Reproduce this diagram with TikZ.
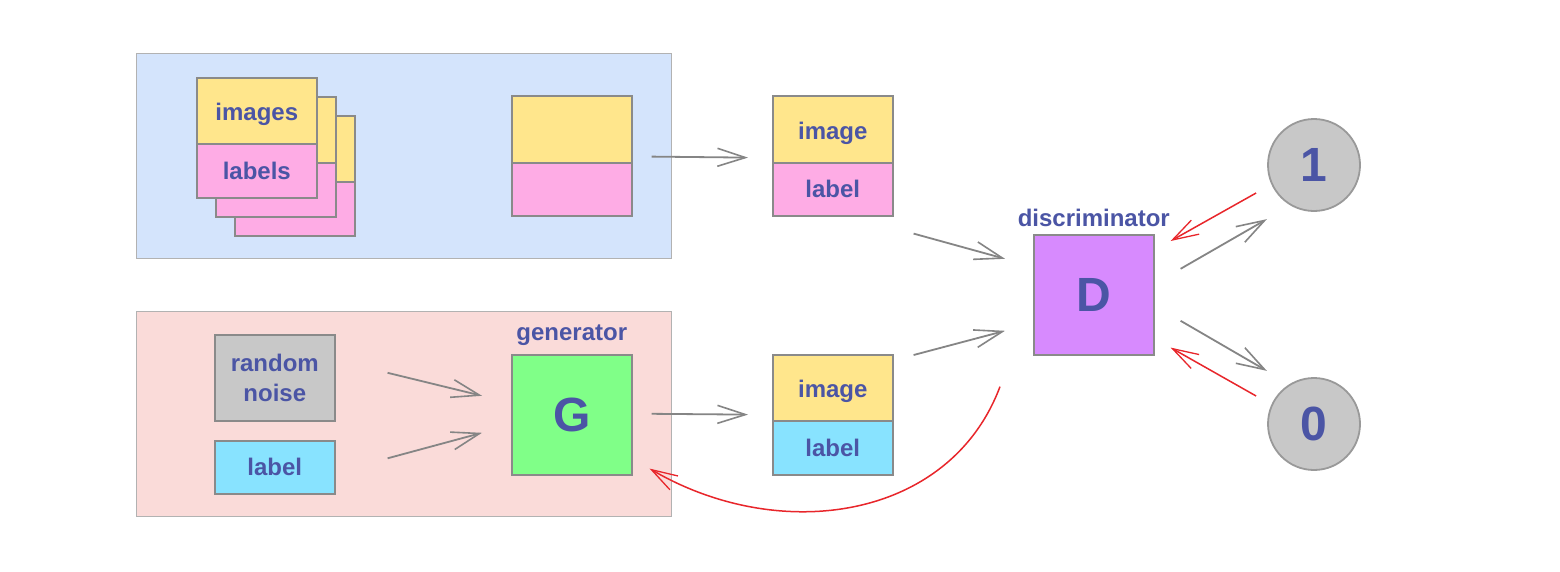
\documentclass[tikz,border=0pt]{standalone}
\usepackage{fontspec}
\setmainfont{Liberation Sans}
\usetikzlibrary{arrows.meta,calc}
\definecolor{txt}{HTML}{4B55A5}
\definecolor{yel}{HTML}{FFE68C}
\definecolor{pnk}{HTML}{FEACE5}
\definecolor{cya}{HTML}{88E3FF}
\definecolor{gry}{HTML}{C8C8C8}
\definecolor{grn}{HTML}{80FF88}
\definecolor{pur}{HTML}{D78AFE}
\definecolor{bluebg}{HTML}{D4E4FC}
\definecolor{pinkbg}{HTML}{FADBD9}
\definecolor{edge}{HTML}{8A8A8A}
\definecolor{arr}{HTML}{858585}
\definecolor{rarr}{HTML}{E8262B}
\tikzset{
  lbl/.style={text=txt, font=\bfseries\fontsize{24}{30}\selectfont},
  big/.style={text=txt, font=\bfseries\fontsize{48}{50}\selectfont},
  half/.style={draw=edge, line width=1.6pt, minimum width=120pt, inner sep=0pt, anchor=north west, lbl},
  panel/.style={draw=black!30, line width=0.8pt, minimum width=535pt, minimum height=205pt, inner sep=0pt, anchor=north west},
  garrow/.style={draw=arr, line width=1.8pt, -{Straight Barb[length=28pt,width=18pt,line width=1.6pt]}},
  rarrow/.style={draw=rarr, line width=1.5pt, -{Straight Barb[length=26pt,width=16pt,line width=1.3pt]}},
  ball/.style={circle, draw=black!40, line width=1.8pt, fill=gry, minimum size=92pt, inner sep=0pt, big}
}
\newcommand{\dn}[1]{\raisebox{-4pt}[\height][\depth]{#1}}
\begin{document}
\begin{tikzpicture}[x=1pt,y=-1pt]
\useasboundingbox[fill=white] (0,0) rectangle (1560,571);
% panels
\node[panel, fill=bluebg] (realpanel) at (136,53) {};
\node[panel, fill=pinkbg] (fakepanel) at (136,311) {};
% stacked cards
\node[half, fill=yel, minimum height=66pt] (s3t) at (234,115) {};
\node[half, fill=pnk, minimum height=54pt] (s3b) at (234,181) {};
\node[half, fill=yel, minimum height=66pt] (s2t) at (215,96) {};
\node[half, fill=pnk, minimum height=54pt] (s2b) at (215,162) {};
\node[half, fill=yel, minimum height=66pt] (s1t) at (196,77) {\dn{images}};
\node[half, fill=pnk, minimum height=54pt] (s1b) at (196,143) {labels};
% single real sample in panel
\node[half, fill=yel, minimum height=67pt] (rt) at (511,95) {};
\node[half, fill=pnk, minimum height=53pt] (rb) at (511,162) {};
% real pair
\node[half, fill=yel, minimum height=67pt] (pt) at (772,95) {\dn{image}};
\node[half, fill=pnk, minimum height=53pt] (pb) at (772,162) {label};
% generator side
\node[half, fill=gry, minimum height=86pt, align=center] (noise) at (214,334) {random\\noise};
\node[half, fill=cya, minimum height=53pt] (glab) at (214,440) {label};
\node[half, fill=grn, minimum height=120pt, big] (G) at (511,354) {G};
\node[lbl, anchor=south, inner sep=0pt] (gtxt) at ($(G.north)+(0,-8)$) {generator};
% fake pair
\node[half, fill=yel, minimum height=66pt] (ft) at (772,354) {\dn{image}};
\node[half, fill=cya, minimum height=54pt] (fb) at (772,420) {label};
% discriminator
\node[half, fill=pur, minimum height=120pt, big] (D) at (1033,234) {D};
\node[lbl, anchor=south, inner sep=0pt] (dtxt) at ($(D.north)+(0,-7)$) {discriminator};
% outputs
\node[ball] (one) at (1314,165) {1};
\node[ball] (zero) at (1314,424) {0};
% arrows
\draw[garrow] ($(rt.south east)+(19,-7)$) -- ($(pt.south west)+(-24,-6)$);
\draw[garrow] ($(G.east)+(19,-1)$) -- ($(ft.south west)+(-24,-7)$);
\draw[garrow] ($(noise.east)+(52,-5)$) -- ($(G.west)+(-29,-19)$);
\draw[garrow] ($(glab.east)+(52,-9)$) -- ($(G.west)+(-29,18)$);
\draw[garrow] ($(pb.south east)+(20,17)$) -- ($(D.west)+(-28,-36)$);
\draw[garrow] ($(fb.north east)+(20,-65)$) -- ($(D.west)+(-28,36)$);
\draw[garrow] ($(D.east)+(26,-26)$) -- ($(one.south west)+(-14,21)$);
\draw[garrow] ($(D.east)+(26,26)$) -- ($(zero.north west)+(-14,-20)$);
\draw[rarrow] ($(one.west)+(-11,28)$) -- ($(D.north east)+(16,7)$);
\draw[rarrow] ($(zero.west)+(-11,-28)$) -- ($(D.south east)+(16,-8)$);
\draw[rarrow] ($(D.south west)+(-33,31)$) .. controls (950,520) and (780,545) .. ($(G.south east)+(17,-7)$);
\end{tikzpicture}
\end{document}
